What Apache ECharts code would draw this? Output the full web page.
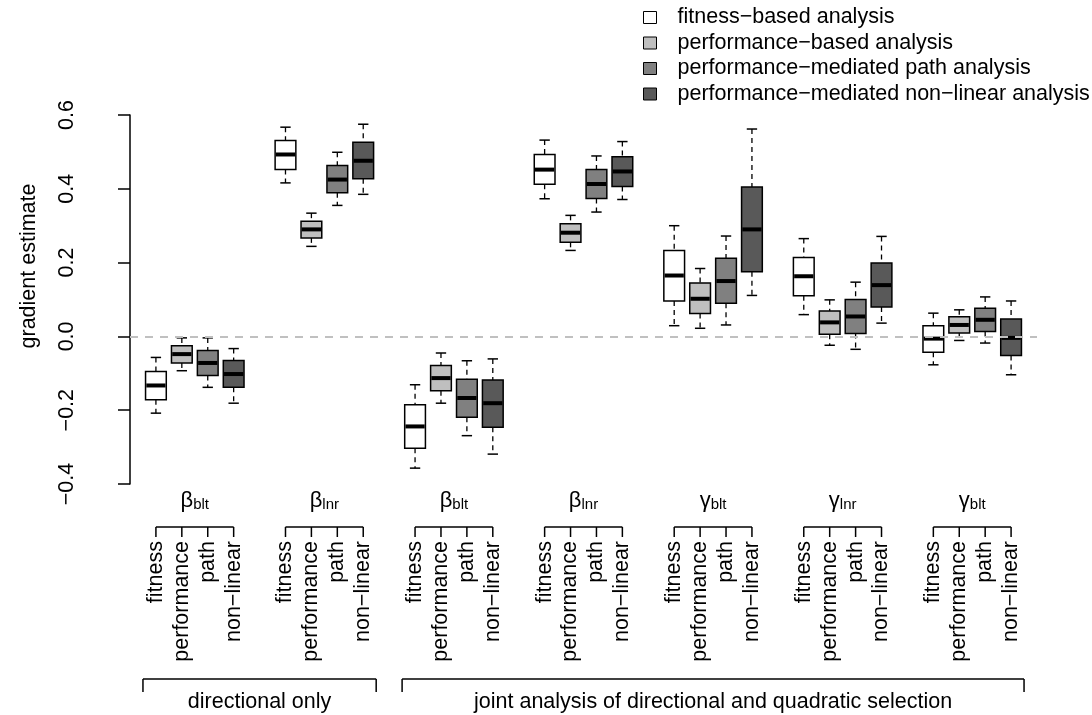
<!DOCTYPE html>
<html><head><meta charset="utf-8">
<script src="https://cdn.jsdelivr.net/npm/echarts@6/dist/echarts.min.js"></script>
<style>html,body{margin:0;padding:0;background:#fff}#c{width:1092px;height:715px}</style>
</head><body><div id="c"></div>
<script>
// ---- data ----
const analyses = ['fitness−based analysis', 'performance−based analysis', 'performance−mediated path analysis', 'performance−mediated non−linear analysis'];
const methodLabels = ['fitness', 'performance', 'path', 'non−linear'];
const groupSymbols = ['β', 'β', 'β', 'β', 'γ', 'γ', 'γ'];
const groupSubs = ['blt', 'lnr', 'blt', 'lnr', 'blt', 'lnr', 'blt'];
const sectionLabels = ['directional only', 'joint analysis of directional and quadratic selection'];
const sectionGroups = [[0, 1], [2, 6]];
const yTicks = [-0.4, -0.2, 0.0, 0.2, 0.4, 0.6];
// each row: [lower whisker, Q1, median, Q3, upper whisker]
const fitness = [
  [-0.208, -0.172, -0.133, -0.095, -0.057],
  [0.416, 0.452, 0.493, 0.531, 0.567],
  [-0.357, -0.303, -0.244, -0.185, -0.131],
  [0.373, 0.412, 0.452, 0.493, 0.532],
  [0.029, 0.096, 0.165, 0.233, 0.300],
  [0.059, 0.110, 0.163, 0.214, 0.265],
  [-0.077, -0.043, -0.006, 0.029, 0.063]
];
const performance = [
  [-0.093, -0.072, -0.048, -0.025, -0.004],
  [0.244, 0.267, 0.290, 0.312, 0.334],
  [-0.181, -0.147, -0.113, -0.079, -0.045],
  [0.233, 0.255, 0.281, 0.305, 0.328],
  [0.022, 0.062, 0.102, 0.145, 0.184],
  [-0.024, 0.006, 0.038, 0.069, 0.099],
  [-0.011, 0.009, 0.031, 0.053, 0.072]
];
const pathAnalysis = [
  [-0.138, -0.106, -0.072, -0.038, -0.004],
  [0.355, 0.389, 0.425, 0.463, 0.499],
  [-0.269, -0.219, -0.167, -0.116, -0.066],
  [0.337, 0.374, 0.413, 0.452, 0.489],
  [0.031, 0.090, 0.150, 0.212, 0.272],
  [-0.035, 0.008, 0.054, 0.100, 0.147],
  [-0.018, 0.013, 0.045, 0.076, 0.107]
];
const nonLinear = [
  [-0.181, -0.138, -0.102, -0.065, -0.033],
  [0.385, 0.427, 0.476, 0.526, 0.575],
  [-0.319, -0.246, -0.181, -0.118, -0.061],
  [0.371, 0.406, 0.447, 0.487, 0.528],
  [0.111, 0.175, 0.290, 0.405, 0.562],
  [0.036, 0.080, 0.139, 0.199, 0.271],
  [-0.104, -0.052, -0.004, 0.047, 0.096]
];
const allSeries = [fitness, performance, pathAnalysis, nonLinear];
const fills = ['#ffffff', '#bfbfbf', '#808080', '#595959'];

// ---- chart ----
const FONT = 'Liberation Sans, Arial, Helvetica, sans-serif';
const FS = 21.5;
const chart = echarts.init(document.getElementById('c'), null, {renderer: 'canvas'});

function boxRender(params, api) {
  const x = api.value(0);
  const lo = api.coord([x, api.value(1)]);
  const q1 = api.coord([x, api.value(2)]);
  const md = api.coord([x, api.value(3)]);
  const q3 = api.coord([x, api.value(4)]);
  const hi = api.coord([x, api.value(5)]);
  const w = api.size([0.8, 0])[0];
  const cx = lo[0];
  const fill = fills[params.seriesIndex];
  const lineS = {stroke: '#000', lineWidth: 1.3, lineDash: [5, 4]};
  const capS = {stroke: '#000', lineWidth: 1.5};
  return {
    type: 'group',
    children: [
      {type: 'line', shape: {x1: cx, y1: hi[1], x2: cx, y2: q3[1]}, style: lineS},
      {type: 'line', shape: {x1: cx, y1: q1[1], x2: cx, y2: lo[1]}, style: lineS},
      {type: 'line', shape: {x1: cx - w / 4, y1: hi[1], x2: cx + w / 4, y2: hi[1]}, style: capS},
      {type: 'line', shape: {x1: cx - w / 4, y1: lo[1], x2: cx + w / 4, y2: lo[1]}, style: capS},
      {type: 'rect', shape: {x: cx - w / 2, y: q3[1], width: w, height: q1[1] - q3[1]},
        style: {fill: fill, stroke: '#000', lineWidth: 1.5}},
      {type: 'line', shape: {x1: cx - w / 2 + 0.75, y1: md[1], x2: cx + w / 2 - 0.75, y2: md[1]},
        style: {stroke: '#000', lineWidth: 4}}
    ]
  };
}

const series = allSeries.map((arr, k) => ({
  name: analyses[k],
  type: 'custom',
  renderItem: boxRender,
  itemStyle: {color: fills[k], borderColor: '#000', borderWidth: 1},
  encode: {x: 0, y: [1, 2, 3, 4, 5]},
  data: arr.map((r, g) => [5 * g + k + 1].concat(r)),
  z: 3,
  markLine: k === 0 ? {
    silent: true, symbol: 'none', label: {show: false},
    lineStyle: {color: '#c0c0c0', type: [8, 7], width: 2},
    data: [{yAxis: 0}]
  } : undefined
}));

chart.setOption({
  animation: false,
  backgroundColor: '#fff',
  textStyle: {fontFamily: FONT},
  grid: {left: 130, right: 55, top: 115, bottom: 231},
  xAxis: {type: 'value', min: 0, max: 35, show: false},
  yAxis: {
    type: 'value', min: -0.4, max: 0.6, interval: 0.2, offset: 22,
    axisLine: {show: true, lineStyle: {color: '#000', width: 1.5}},
    axisTick: {show: true, length: 12, lineStyle: {color: '#000', width: 1.5}},
    splitLine: {show: false},
    axisLabel: {
      rotate: 90, margin: 30, color: '#000', fontSize: FS, fontFamily: FONT,
      formatter: v => v.toFixed(1).replace('-', '−')
    }
  },
  legend: {
    orient: 'vertical', left: 643, top: 6, padding: 0,
    itemWidth: 13, itemHeight: 12, itemGap: 2.5, icon: 'rect',
    textStyle: {fontSize: FS, color: '#000', fontFamily: FONT, lineHeight: 23, padding: [0, 0, 0, 16]},
    data: analyses.map((n, k) => ({name: n, itemStyle: {color: fills[k], borderColor: '#000', borderWidth: 1}}))
  },
  series: series
});

// ---- annotations below the plot, positioned via the x scale ----
const px = p => chart.convertToPixel({gridIndex: 0}, [p, 0])[0];
const gfx = [];
const lineStyle = {stroke: '#000', lineWidth: 1.5};
gfx.push({type: 'text', x: 29, y: 266, rotation: Math.PI / 2,
  style: {text: 'gradient estimate', fontSize: FS, fontFamily: FONT, fill: '#000', align: 'center', verticalAlign: 'middle'}});
for (let g = 0; g < 7; g++) {
  const c = px(5 * g + 2.5);
  gfx.push({type: 'text', x: c, y: 501,
    style: {text: '{g|' + groupSymbols[g] + '}{s|' + groupSubs[g] + '}', align: 'center', verticalAlign: 'middle',
      rich: {g: {fontSize: 22, fontFamily: FONT, fill: '#000'}, s: {fontSize: 15, fontFamily: FONT, fill: '#000', padding: [8, 0, 0, 0]}}}});
  const x1 = px(5 * g + 1), x4 = px(5 * g + 4);
  gfx.push({type: 'line', shape: {x1: x1, y1: 527, x2: x4, y2: 527}, style: lineStyle});
  for (let k = 0; k < 4; k++) {
    const xk = px(5 * g + k + 1);
    gfx.push({type: 'line', shape: {x1: xk, y1: 527, x2: xk, y2: 537}, style: lineStyle});
    gfx.push({type: 'text', x: xk, y: 541, rotation: Math.PI / 2,
      style: {text: methodLabels[k], fontSize: FS, fontFamily: FONT, fill: '#000', align: 'right', verticalAlign: 'middle'}});
  }
}
sectionLabels.forEach((lab, i) => {
  const a = px(5 * sectionGroups[i][0] + 0.5), b = px(5 * sectionGroups[i][1] + 4.5);
  gfx.push({type: 'line', shape: {x1: a, y1: 679, x2: b, y2: 679}, style: lineStyle});
  gfx.push({type: 'line', shape: {x1: a, y1: 679, x2: a, y2: 692}, style: lineStyle});
  gfx.push({type: 'line', shape: {x1: b, y1: 679, x2: b, y2: 692}, style: lineStyle});
  gfx.push({type: 'text', x: (a + b) / 2, y: 702,
    style: {text: lab, fontSize: FS, fontFamily: FONT, fill: '#000', align: 'center', verticalAlign: 'middle'}});
});
chart.setOption({graphic: {elements: gfx}});
</script>
</body></html>
